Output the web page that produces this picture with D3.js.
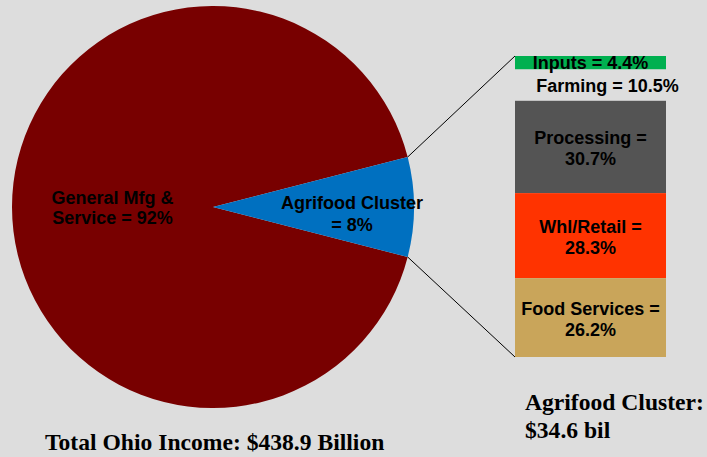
<!DOCTYPE html>
<html>
<head>
<meta charset="utf-8">
<script src="https://cdn.jsdelivr.net/npm/d3@7"></script>
<style>
  html, body { margin: 0; padding: 0; background: #dddddd; }
  svg { display: block; }
</style>
</head>
<body>
<svg id="chart" width="707" height="457"></svg>
<script>
// Ohio income split: whole economy vs. agrifood cluster
const pieCategories = ["General Mfg & Service", "Agrifood Cluster"];
const pieShares = [92, 8];
const pieLabels = [["General Mfg &", "Service = 92%"], ["Agrifood Cluster", "= 8%"]];

// Breakdown of the agrifood cluster (percent of cluster income)
const clusterCategories = ["Inputs", "Farming", "Processing", "Whl/Retail", "Food Services"];
const clusterShares = [4.4, 10.5, 30.7, 28.3, 26.2];
const clusterLabels = [["Inputs = 4.4%"], ["Farming = 10.5%"], ["Processing =", "30.7%"], ["Whl/Retail =", "28.3%"], ["Food Services =", "26.2%"]];

const totalTitle = "Total Ohio Income: $438.9 Billion";
const clusterTitle = ["Agrifood Cluster:", "$34.6 bil"];

const pieColors = ["#780000", "#0070c0"];
const clusterColors = ["#00b050", "none", "#545454", "#ff3300", "#c9a55a"];

const svg = d3.select("#chart");
const sansFont = "'Liberation Sans', Arial, sans-serif";
const serifFont = "'Liberation Serif', 'Times New Roman', serif";

// ---- Pie ----
const cx = 213, cy = 207, r = 201;
const half = Math.PI * pieShares[1] / 100; // half-angle of the agrifood wedge
const pie = d3.pie().sort(null).value(d => d)
  .startAngle(Math.PI / 2 + half)
  .endAngle(Math.PI / 2 + half + 2 * Math.PI);
const arcs = pie(pieShares);
const arc = d3.arc().innerRadius(0).outerRadius(r);

const gPie = svg.append("g").attr("transform", `translate(${cx},${cy})`);
gPie.selectAll("path").data(arcs).join("path")
  .attr("d", arc)
  .attr("fill", (d, i) => pieColors[i]);

const labelArcs = [d3.arc().innerRadius(0).outerRadius(r), d3.arc().innerRadius(139).outerRadius(139)];
const labelDy = [[-3, 17], [2, 24]];
arcs.forEach((d, i) => {
  const [lx, ly] = labelArcs[i].centroid(d);
  const t = gPie.append("text")
    .attr("text-anchor", "middle")
    .attr("font-family", sansFont)
    .attr("font-weight", "bold")
    .attr("font-size", 18)
    .attr("fill", "#000");
  pieLabels[i].forEach((line, j) => {
    t.append("tspan").attr("x", lx).attr("y", ly + labelDy[i][j]).text(line);
  });
});

// ---- Stacked bar ----
const barX0 = 515, barX1 = 666, barTop = 56, barBottom = 357;
const total = d3.sum(clusterShares);
const y = d3.scaleLinear().domain([0, total]).range([barTop, barBottom]);
let acc = 0;
const segs = clusterShares.map((v, i) => {
  const s = { i, v, y0: acc, y1: acc + v };
  acc += v;
  return s;
});

const gBar = svg.append("g");
gBar.selectAll("rect").data(segs).join("rect")
  .attr("x", barX0)
  .attr("width", barX1 - barX0)
  .attr("y", d => y(d.y0))
  .attr("height", d => y(d.y1) - y(d.y0))
  .attr("fill", d => clusterColors[d.i]);

// connector lines from the agrifood wedge to the bar
const aTop = Math.PI / 2 - half, aBot = Math.PI / 2 + half;
const edge = a => [cx + r * Math.sin(a), cy - r * Math.cos(a)];
const [tx, ty] = edge(aTop), [bx, by] = edge(aBot);
svg.append("line").attr("x1", tx).attr("y1", ty).attr("x2", barX0).attr("y2", y(0))
  .attr("stroke", "#000").attr("stroke-width", 1);
svg.append("line").attr("x1", bx).attr("y1", by).attr("x2", barX0).attr("y2", y(total))
  .attr("stroke", "#000").attr("stroke-width", 1);

const barCx = (barX0 + barX1) / 2;
const segLabelX = [barCx, barCx + 17, barCx, barCx, barCx];
segs.forEach(d => {
  const mid = (y(d.y0) + y(d.y1)) / 2;
  const lines = clusterLabels[d.i];
  const offs = lines.length === 1 ? [6.5] : [-3, 18];
  const t = gBar.append("text")
    .attr("text-anchor", "middle")
    .attr("font-family", sansFont)
    .attr("font-weight", "bold")
    .attr("font-size", 18)
    .attr("fill", "#000");
  lines.forEach((line, j) => {
    t.append("tspan").attr("x", segLabelX[d.i]).attr("y", mid + offs[j]).text(line);
  });
});

// ---- Captions ----
svg.append("text")
  .attr("x", 45).attr("y", 450)
  .attr("font-family", serifFont).attr("font-weight", "bold").attr("font-size", 23.6)
  .attr("fill", "#000")
  .text(totalTitle);

const cap = svg.append("text")
  .attr("font-family", serifFont).attr("font-weight", "bold").attr("font-size", 23.6)
  .attr("fill", "#000");
clusterTitle.forEach((line, j) => {
  cap.append("tspan").attr("x", 525).attr("y", 410 + j * 28).text(line);
});
</script>
</body>
</html>
